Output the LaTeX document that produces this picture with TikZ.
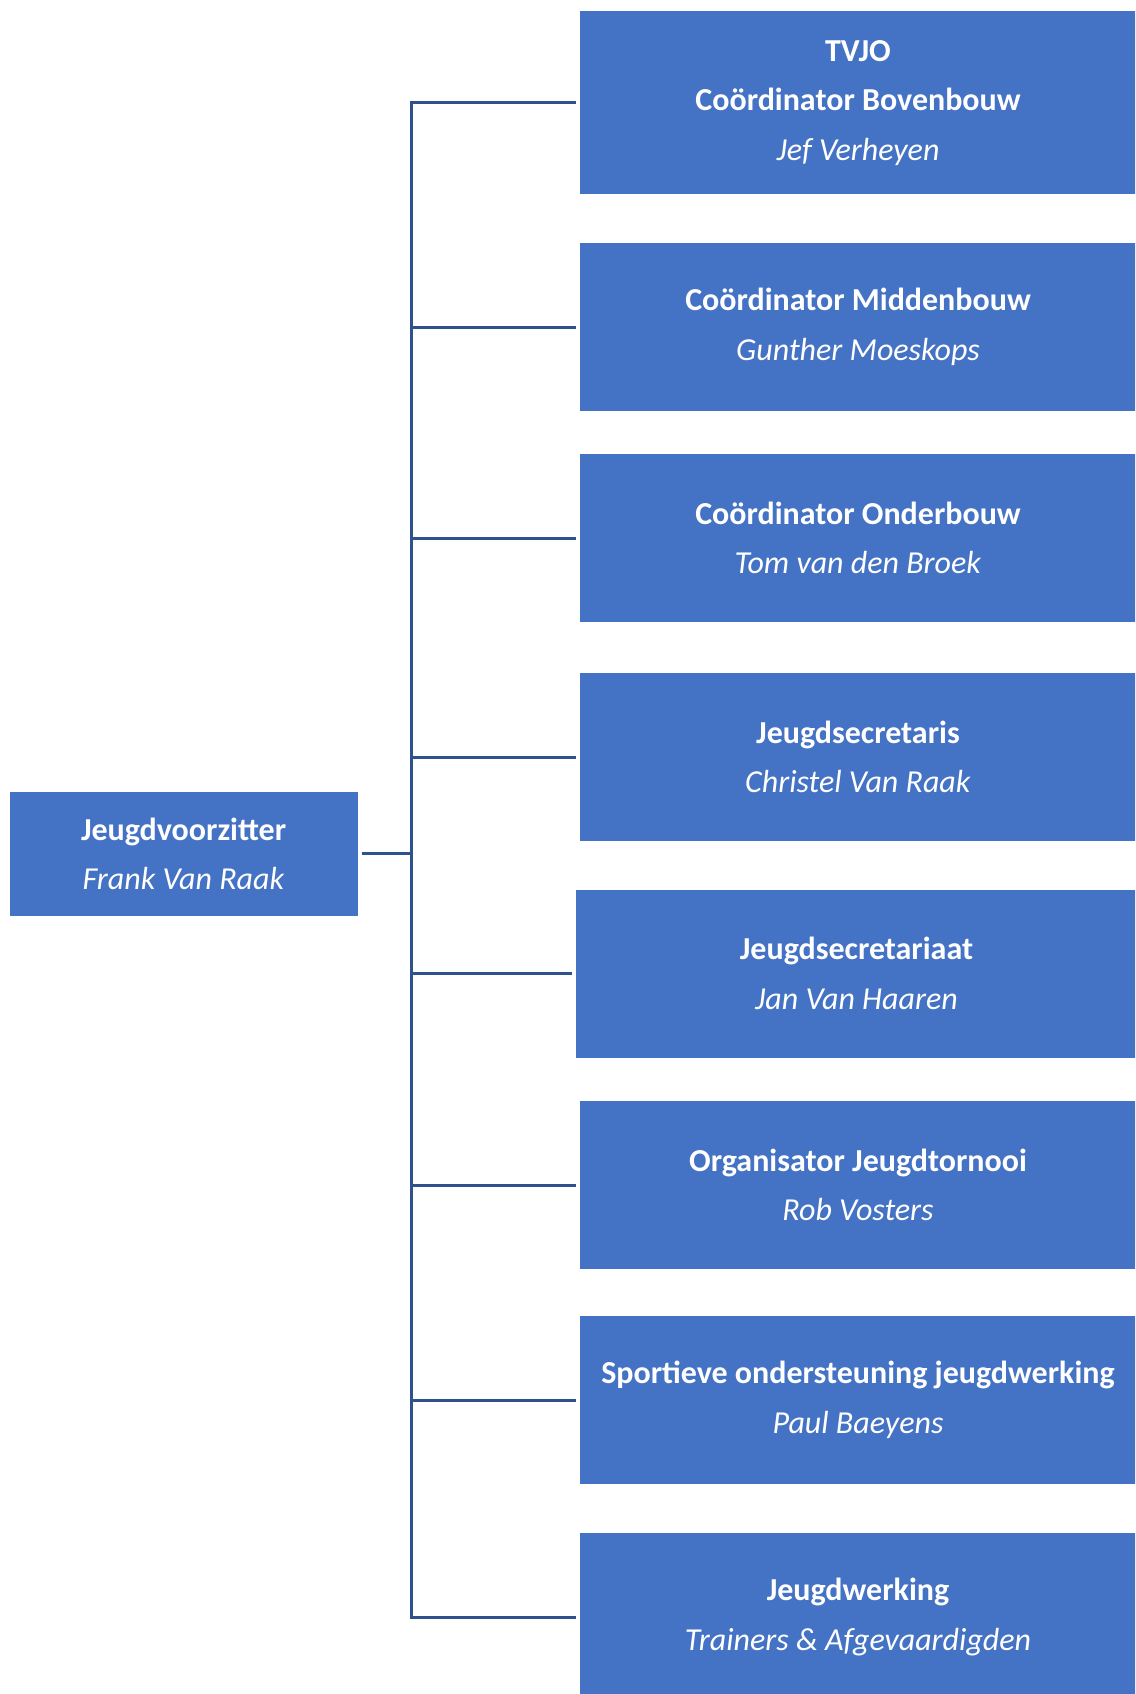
\documentclass[tikz,border=0pt]{standalone}
\usepackage{fontspec}
\setmainfont{Carlito}
\definecolor{boxblue}{rgb}{0.267,0.447,0.769}
\definecolor{lineblue}{rgb}{0.184,0.322,0.561}

\begin{document}
\begin{tikzpicture}[line cap=butt,line join=miter,x=1pt,y=-1pt,
  unit/.style={fill=boxblue,text=white,align=center,inner sep=0pt,font=\fontsize{32}{49.5}\selectfont},
  post/.style={unit,minimum width=556pt,minimum height=168pt},
  link/.style={draw=lineblue,line width=3pt,shorten <=4pt,shorten >=3.5pt}]
\useasboundingbox (0,0) rectangle (1135,1694);
\clip (0,0) rectangle (1135,1694);
\fill[white] (0,0) rectangle (1135,1694);
\node[unit,minimum width=348pt,minimum height=124pt] (chair) at (183.6,853.7) {\textbf{Jeugdvoorzitter}\\\textit{Frank Van Raak}};
\node[post,minimum height=183.6pt] (bovenbouw) at (858,102.6) {\textbf{TVJO}\\\textbf{Coördinator Bovenbouw}\\\textit{Jef Verheyen}};
\node[post] (middenbouw) at (858,327) {\textbf{Coördinator Middenbouw}\\\textit{Gunther Moeskops}};
\node[post] (onderbouw) at (858,538) {\textbf{Coördinator Onderbouw}\\\textit{Tom van den Broek}};
\node[post] (secretaris) at (858,757) {\textbf{Jeugdsecretaris}\\\textit{Christel Van Raak}};
\node[post,minimum width=561pt] (secretariaat) at (856.5,973.5) {\textbf{Jeugdsecretariaat}\\\textit{Jan Van Haaren}};
\node[post] (tornooi) at (858,1185) {\textbf{Organisator Jeugdtornooi}\\\textit{Rob Vosters}};
\node[post] (sportief) at (858,1400) {\textbf{Sportieve ondersteuning jeugdwerking}\\\textit{Paul Baeyens}};
\node[post] (jeugdwerking) at (858,1617) {\textbf{Jeugdwerking}\\\textit{Trainers \& Afgevaardigden}};
\coordinate (trunk) at (411.5,853.7);
\foreach \post in {bovenbouw,middenbouw,onderbouw,secretaris,secretariaat,tornooi,sportief,jeugdwerking}
  \draw[link] (chair.east) -- (trunk) |- (\post.west);
\end{tikzpicture}
\end{document}
